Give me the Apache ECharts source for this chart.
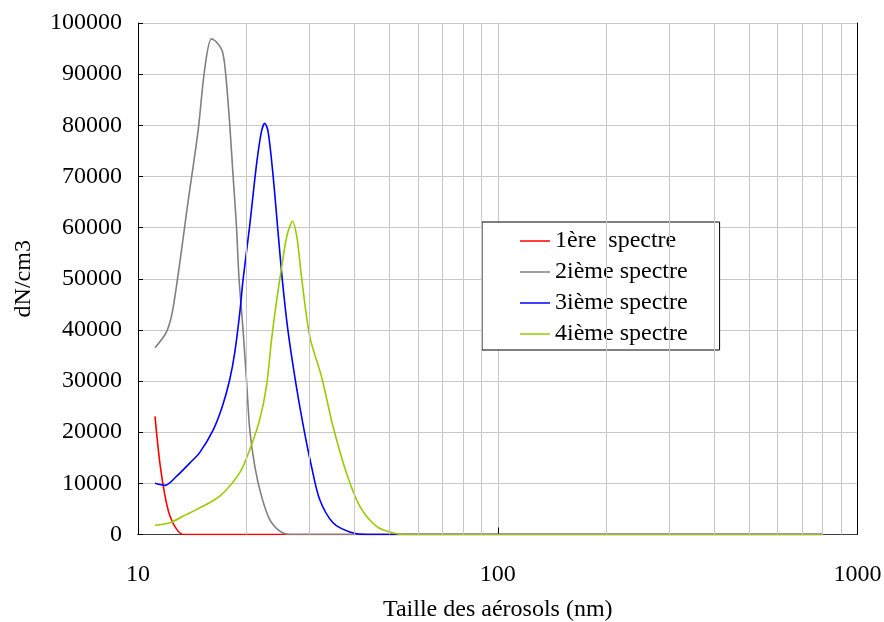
<!DOCTYPE html>
<html>
<head>
<meta charset="utf-8">
<script src="https://cdn.jsdelivr.net/npm/echarts@6/dist/echarts.min.js"></script>
<style>html,body{margin:0;padding:0;background:#fff}#c{width:884px;height:622px}</style>
</head>
<body>
<div id="c"></div>
<script>
var seriesNames = ['1ère  spectre', '2ième spectre', '3ième spectre', '4ième spectre'];
var seriesColors = ['#ff0000', '#808080', '#0000ff', '#99cc00'];

var spectre1X = [11.15, 11.5, 11.89, 12.27, 12.81, 13.37, 15, 20, 30, 50, 100, 200, 400, 800];
var spectre1Y = [23100, 14000, 7500, 3600, 1000, 0, 0, 0, 0, 0, 0, 0, 0, 0];

var spectre2X = [11.15, 12.02, 12.54, 13.8, 14.7, 15.33, 16.0, 16.52, 17.17, 17.54, 17.99, 18.37, 18.77, 19.09, 19.59, 20.02, 20.45, 21.12, 22.04, 23.24, 24.77, 26.42, 35, 50, 100, 200, 400, 800];
var spectre2Y = [36500, 39700, 44600, 65400, 79100, 91100, 96900, 96300, 94400, 89800, 80100, 70300, 60500, 50100, 40000, 30300, 20500, 13300, 7500, 2900, 650, 0, 0, 0, 0, 0, 0, 0];

var spectre3X = [11.15, 11.89, 12.81, 13.95, 14.84, 16.2, 17.17, 17.99, 18.57, 19.18, 19.59, 20.45, 21.35, 22.04, 22.51, 22.99, 23.73, 24.5, 25.21, 26.13, 27.4, 28.76, 30.36, 32.01, 34.85, 38.78, 43.18, 60, 100, 200, 400, 800];
var spectre3Y = [10000, 9600, 11400, 14000, 16000, 20500, 25100, 30300, 35500, 43300, 49800, 60500, 72300, 78800, 80400, 78800, 70300, 59200, 49500, 39700, 30000, 21500, 13300, 6800, 2300, 500, 0, 0, 0, 0, 0, 0];

var spectre4X = [11.15, 12.27, 13.37, 14.84, 16.88, 19.18, 20.45, 21.8, 22.76, 23.5, 24.26, 25.04, 25.96, 26.88, 27.68, 28.47, 30.03, 32.36, 34.85, 37.97, 41.37, 46.03, 51.19, 56, 80, 100, 200, 400, 800];
var spectre4Y = [1800, 2300, 3600, 5200, 7500, 12100, 16600, 22500, 29000, 38000, 45500, 52000, 58500, 61200, 57900, 50400, 38700, 30900, 21100, 12000, 5500, 1600, 300, 0, 0, 0, 0, 0, 0];

var xMinorGrid = [20, 30, 40, 50, 60, 70, 80, 90, 200, 300, 400, 500, 600, 700, 800, 900];
var yTicks = {min: 0, max: 100000, interval: 10000};
var xTitle = 'Taille des aérosols (nm)';
var yTitle = 'dN/cm3';

function pairs(xs, ys) { return xs.map(function (x, i) { return [x, ys[i]]; }); }
var allX = [spectre1X, spectre2X, spectre3X, spectre4X];
var allY = [spectre1Y, spectre2Y, spectre3Y, spectre4Y];

var FONT = 'Liberation Serif';
var series = seriesNames.map(function (n, i) {
  return {
    name: n, type: 'line', data: pairs(allX[i], allY[i]),
    symbol: 'none', smooth: 0.3, color: seriesColors[i],
    lineStyle: {color: seriesColors[i], width: 1.6}, z: 3
  };
});
series.unshift({
  name: '_grid', type: 'line', data: [], silent: true, z: 1,
  markLine: {
    silent: true, symbol: ['none', 'none'], label: {show: false},
    lineStyle: {color: '#c8c8c8', type: 'solid', width: 1},
    emphasis: {disabled: true},
    data: xMinorGrid.map(function (v) { return {xAxis: v}; })
  }
});

var chart = echarts.init(document.getElementById('c'), null, {renderer: 'canvas'});
chart.setOption({
  animation: false,
  backgroundColor: '#fff',
  grid: {left: 138, right: 26.5, top: 23, bottom: 87.5, show: false, containLabel: false, outerBoundsMode: 'none'},
  legend: {
    data: seriesNames, orient: 'vertical', left: 482, top: 222,
    padding: [7, 32, 4, 38], itemGap: 7, itemWidth: 30, itemHeight: 14,
    backgroundColor: '#fff', borderColor: '#000', borderWidth: 1, borderRadius: 0,
    icon: 'path://M0,0 L30,0 L30,1.5 L0,1.5 Z',
    textStyle: {fontFamily: FONT, fontSize: 24, color: '#000', lineHeight: 24}
  },
  xAxis: [{
    type: 'log', logBase: 10, min: 10, max: 1000,
    name: xTitle, nameLocation: 'middle', nameGap: 63,
    nameTextStyle: {fontFamily: FONT, fontSize: 24, color: '#000'},
    axisLine: {show: true, lineStyle: {color: '#000', width: 1}},
    axisTick: {show: true, inside: true, length: 7, lineStyle: {color: '#000'}},
    axisLabel: {fontFamily: FONT, fontSize: 24, color: '#000', margin: 28,
      formatter: function (v) { return String(Math.round(v)); }},
    splitLine: {show: true, lineStyle: {color: '#c8c8c8', width: 1}},
    minorTick: {show: false}, minorSplitLine: {show: false}
  }, {
    type: 'log', logBase: 10, min: 10, max: 1000, position: 'top',
    axisLine: {show: true, lineStyle: {color: '#404040', width: 1}},
    axisTick: {show: false}, axisLabel: {show: false}, splitLine: {show: false}
  }],
  yAxis: [{
    type: 'value', min: yTicks.min, max: yTicks.max, interval: yTicks.interval,
    name: yTitle, nameLocation: 'middle', nameGap: 102,
    nameTextStyle: {fontFamily: FONT, fontSize: 24, color: '#000'},
    axisLine: {show: true, lineStyle: {color: '#000', width: 1}},
    axisTick: {show: true, inside: true, length: 5, lineStyle: {color: '#000'}},
    axisLabel: {fontFamily: FONT, fontSize: 24, color: '#000', margin: 16,
      formatter: function (v) { return String(v); }},
    splitLine: {show: true, lineStyle: {color: '#c8c8c8', width: 1}}
  }, {
    type: 'value', min: yTicks.min, max: yTicks.max, interval: yTicks.interval, position: 'right',
    axisLine: {show: true, lineStyle: {color: '#000', width: 1}},
    axisTick: {show: false}, axisLabel: {show: false}, splitLine: {show: false}
  }],
  series: series
});
</script>
</body>
</html>
